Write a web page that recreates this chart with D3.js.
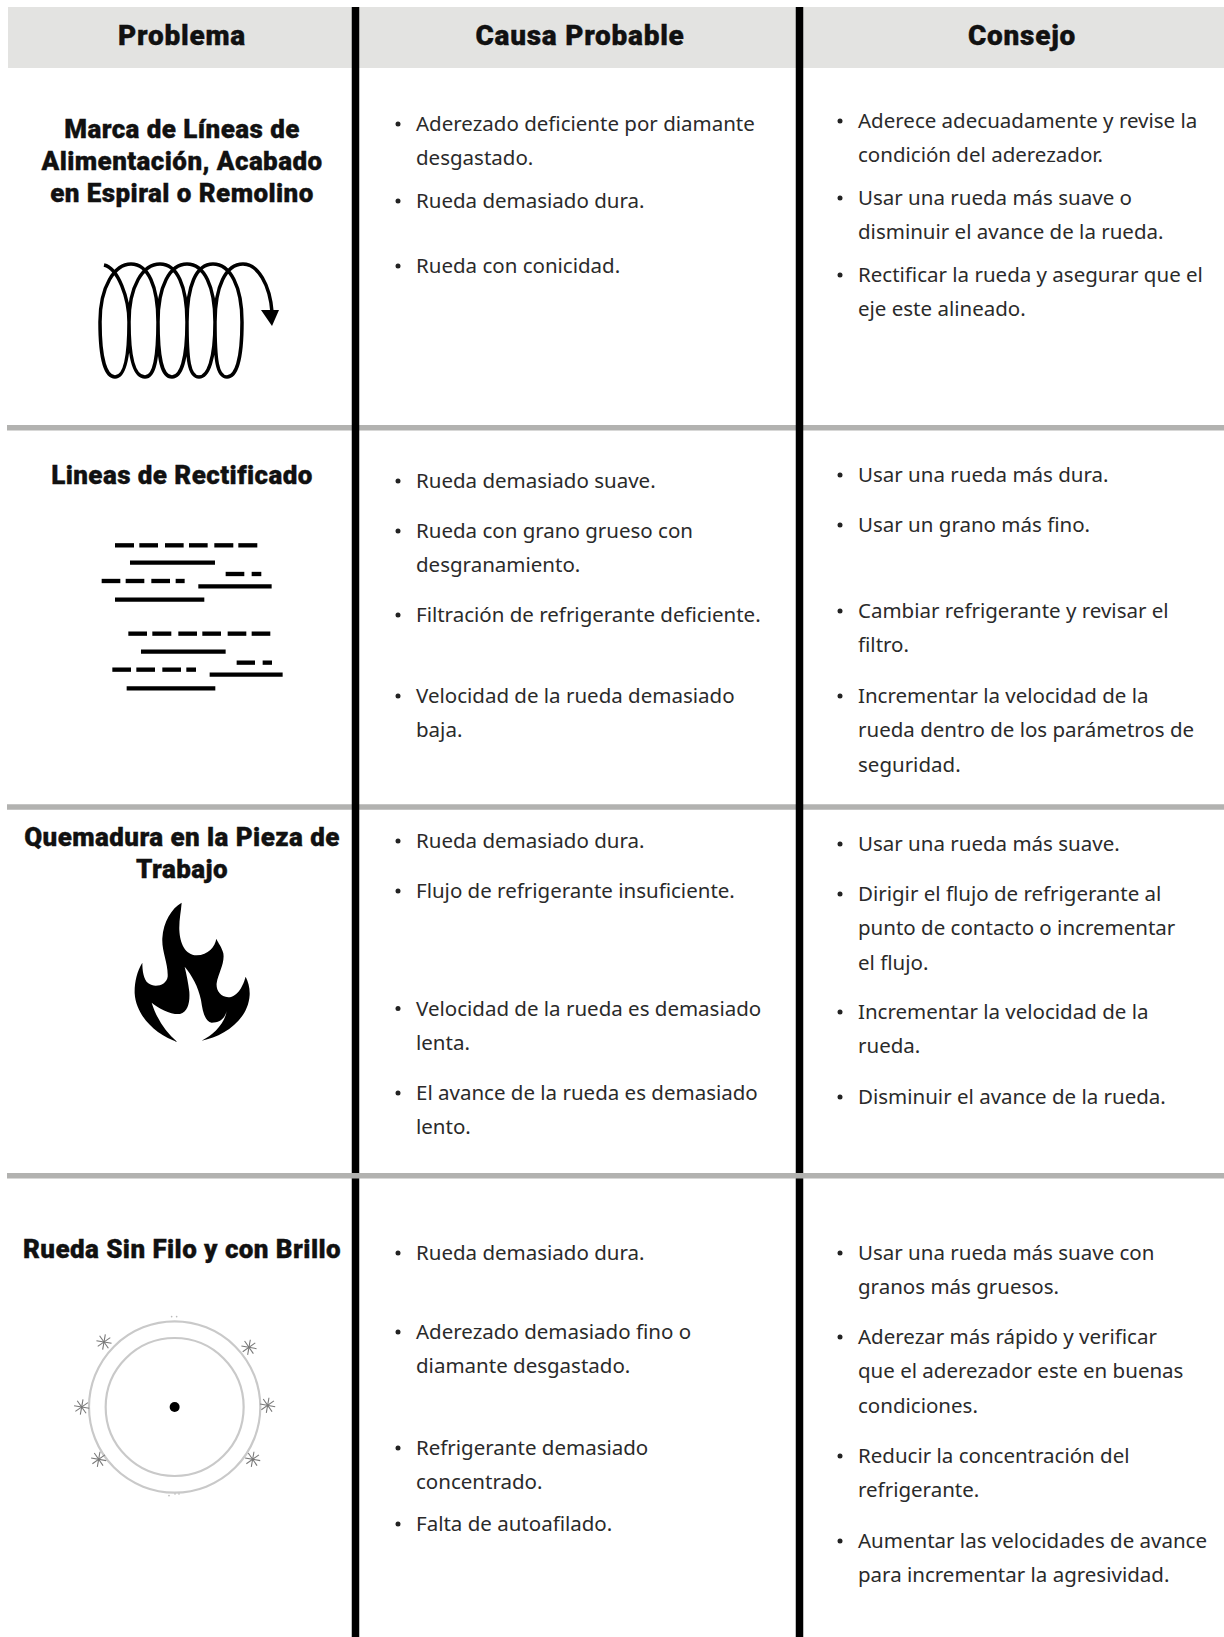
<!DOCTYPE html>
<meta charset="utf-8">
<style>
  html, body { margin: 0; background: #fff; }
  svg { display: block; }
  .head, .title { font-family: Roboto, sans-serif; font-weight: 900; fill: #111; text-anchor: middle; stroke: #111; stroke-width: 0.35px; }
  .head { font-size: 28px; letter-spacing: 0.75px; }
  .title { font-size: 26px; letter-spacing: 0.42px; }
  .body { font-family: "Noto Sans", sans-serif; font-size: 20.5px; fill: #2a2a2a; }
</style>
<body>
<div id="chart"></div>
<script src="https://d3js.org/d3.v7.min.js"></script>
<script>
  const columns = ['Problema', 'Causa Probable', 'Consejo'];

  const problems = [
    ['Marca de Líneas de', 'Alimentación, Acabado', 'en Espiral o Remolino'],
    ['Lineas de Rectificado'],
    ['Quemadura en la Pieza de', 'Trabajo'],
    ['Rueda Sin Filo y con Brillo']
  ];

  const causes = [
    [['Aderezado deficiente por diamante', 'desgastado.'], ['Rueda demasiado dura.'], ['Rueda con conicidad.']],
    [['Rueda demasiado suave.'], ['Rueda con grano grueso con', 'desgranamiento.'], ['Filtración de refrigerante deficiente.'], ['Velocidad de la rueda demasiado', 'baja.']],
    [['Rueda demasiado dura.'], ['Flujo de refrigerante insuficiente.'], ['Velocidad de la rueda es demasiado', 'lenta.'], ['El avance de la rueda es demasiado', 'lento.']],
    [['Rueda demasiado dura.'], ['Aderezado demasiado fino o', 'diamante desgastado.'], ['Refrigerante demasiado', 'concentrado.'], ['Falta de autoafilado.']]
  ];

  const advice = [
    [['Aderece adecuadamente y revise la', 'condición del aderezador.'], ['Usar una rueda más suave o', 'disminuir el avance de la rueda.'], ['Rectificar la rueda y asegurar que el', 'eje este alineado.']],
    [['Usar una rueda más dura.'], ['Usar un grano más fino.'], ['Cambiar refrigerante y revisar el', 'filtro.'], ['Incrementar la velocidad de la', 'rueda dentro de los parámetros de', 'seguridad.']],
    [['Usar una rueda más suave.'], ['Dirigir el flujo de refrigerante al', 'punto de contacto o incrementar', 'el flujo.'], ['Incrementar la velocidad de la', 'rueda.'], ['Disminuir el avance de la rueda.']],
    [['Usar una rueda más suave con', 'granos más gruesos.'], ['Aderezar más rápido y verificar', 'que el aderezador este en buenas', 'condiciones.'], ['Reducir la concentración del', 'refrigerante.'], ['Aumentar las velocidades de avance', 'para incrementar la agresividad.']]
  ];

  // layout (baseline of the first line of each bullet)
  const causeY = [
    [131, 208, 273],
    [488, 538, 622, 703],
    [848, 898, 1015.5, 1100],
    [1260, 1339, 1455, 1531]
  ];
  const adviceY = [
    [128, 205, 282],
    [482, 532, 618, 703],
    [851, 901, 1019, 1104],
    [1260, 1344, 1463, 1548]
  ];
  const titleY = [138, 484, 846, 1258];
  const ruleY = [427.8, 807, 1175.8];

  const width = 1224, height = 1637, lineH = 34.4;
  const headX = d3.scaleOrdinal(columns, [182, 580, 1022]);
  const bulletX = d3.scaleOrdinal(['cause', 'advice'], [398, 840]);
  const barX = [355.5, 799.5];

  const svg = d3.select('#chart').append('svg')
      .attr('width', width).attr('height', height)
      .attr('viewBox', `0 0 ${width} ${height}`);

  // cabecera
  svg.append('rect').attr('x', 8).attr('y', 7).attr('width', width - 8).attr('height', 61)
      .attr('fill', '#e3e3e1');
  svg.selectAll('text.head').data(columns).enter().append('text')
      .attr('class', 'head').attr('x', d => headX(d)).attr('y', 45).text(d => d);

  // lineas: la ultima regla gris pasa por encima de las barras
  function drawRules(ys) {
    svg.append('g').selectAll('line').data(ys).enter().append('line')
        .attr('x1', 7).attr('x2', width)
        .attr('y1', d => d).attr('y2', d => d)
        .attr('stroke', '#b2b2b0').attr('stroke-width', 5.5);
  }
  drawRules(ruleY.slice(0, 2));
  svg.selectAll('line.bar').data(barX).enter().append('line')
      .attr('class', 'bar').attr('x1', d => d).attr('x2', d => d)
      .attr('y1', 7).attr('y2', height)
      .attr('stroke', '#000').attr('stroke-width', 7.5);
  drawRules(ruleY.slice(2));

  // titulos de problema
  problems.forEach((lines, i) => {
    svg.append('g').selectAll('text').data(lines).enter().append('text')
        .attr('class', 'title').attr('x', 182)
        .attr('y', (d, j) => titleY[i] + j * 32).text(d => d);
  });

  function drawBullets(rows, ys, key) {
    rows.forEach((items, r) => {
      items.forEach((lines, k) => {
        const g = svg.append('g');
        g.append('circle').attr('cx', bulletX(key)).attr('cy', ys[r][k] - 7)
            .attr('r', 2.5).attr('fill', '#222');
        g.selectAll('text').data(lines).enter().append('text')
            .attr('class', 'body').attr('x', bulletX(key) + 18)
            .attr('y', (d, j) => ys[r][k] + j * lineH).text(d => d);
      });
    });
  }
  drawBullets(causes, causeY, 'cause');
  drawBullets(advice, adviceY, 'advice');

  // icono: espiral
  const topX = [131, 160, 187, 213];
  const bottomX = [145, 172, 199, 227];
  const rightX = [158, 187, 215, 242];
  const leftX = [129, 158, 187, 215];
  let coil = 'M104,265 C118,268 129,298 129,322 C129,360 124,377 115,377 C106,377 100,360 100,322 C100,286 115,264 131,264';
  topX.forEach((t, i) => {
    coil += ` C${t + 17},264 ${rightX[i]},286 ${rightX[i]},322`;
    coil += ` C${rightX[i]},360 ${bottomX[i] + 9},377 ${bottomX[i]},377`;
    coil += ` C${bottomX[i] - 10},377 ${leftX[i]},360 ${leftX[i]},322`;
    const nt = i < 3 ? topX[i + 1] : 243;
    coil += ` C${leftX[i]},286 ${nt - 17},264 ${nt},264`;
  });
  coil += ' C258,264 270,285 272,312';
  svg.append('path').attr('d', coil).attr('fill', 'none').attr('stroke', '#000').attr('stroke-width', 3.5);
  svg.append('path').attr('d', 'M261,310 L279,310 L272,326 Z').attr('fill', '#000');

  // icono: lineas (en pixeles del recorte x3)
  const dashes = [
    [165, 222, 136], [238, 294, 136], [315, 371, 136], [387, 443, 136], [463, 520, 136], [535, 592, 136],
    [210, 465, 188], [497, 553, 222], [575, 604, 222],
    [125, 181, 243], [197, 253, 243], [274, 330, 243], [347, 374, 243],
    [415, 635, 259], [165, 433, 299],
    [205, 261, 401], [277, 334, 401], [355, 411, 401], [427, 483, 401], [503, 559, 401], [575, 631, 401],
    [243, 497, 455], [530, 585, 488], [608, 636, 488],
    [157, 213, 509], [229, 285, 509], [307, 363, 509], [379, 408, 509],
    [449, 668, 524], [200, 466, 565]
  ];
  svg.append('g').attr('transform', 'translate(60,500) scale(0.3333)')
      .selectAll('line').data(dashes).enter().append('line')
      .attr('x1', d => d[0]).attr('x2', d => d[1])
      .attr('y1', d => d[2]).attr('y2', d => d[2])
      .attr('stroke', '#000').attr('stroke-width', 13);

  // icono: llama
  svg.append('path').attr('transform', 'translate(100,880) scale(0.3333)')
      .attr('fill', '#000')
      .attr('d', 'M245,68 C215,85 190,125 187,175 C185,215 205,250 203,290 C200,315 165,325 145,310 C130,298 127,270 127,248 C110,275 103,310 104,340 C108,410 170,465 232,486 C195,455 170,415 155,368 C175,385 215,405 240,402 C265,395 270,365 268,335 C265,310 260,285 254,260 C275,285 295,320 303,360 C308,395 315,425 335,428 C360,428 375,415 380,393 C375,430 340,465 305,482 C370,470 445,420 449,345 C450,325 445,305 437,290 C430,315 415,350 385,352 C360,350 348,330 350,310 C355,280 375,250 370,220 C365,200 355,190 349,176 C345,200 325,225 290,226 C255,225 240,190 238,150 C237,120 243,95 245,68 Z');

  // icono: rueda
  const wheel = svg.append('g').attr('transform', 'translate(60,1300) scale(0.3333)');
  wheel.selectAll('circle.ring').data([257, 207]).enter().append('circle')
      .attr('class', 'ring').attr('cx', 344).attr('cy', 321).attr('r', d => d)
      .attr('fill', 'none').attr('stroke', '#c9c9c9').attr('stroke-width', 6.5);
  wheel.append('circle').attr('cx', 344).attr('cy', 321).attr('r', 15).attr('fill', '#000');
  const sparks = [[132, 126], [567, 142], [623, 316], [578, 478], [116, 478], [65, 321]];
  const spokes = d3.range(4).map(i => i * 45);
  wheel.selectAll('g.spark').data(sparks).enter().append('g')
      .attr('class', 'spark').attr('transform', d => `translate(${d[0]},${d[1]})`)
      .selectAll('line').data(spokes).enter().append('line')
      .attr('x1', -23).attr('x2', 23).attr('y1', 0).attr('y2', 0)
      .attr('transform', d => `rotate(${d + 10})`)
      .attr('stroke', '#777').attr('stroke-width', 3.2);
  wheel.selectAll('circle.speck').data([[335, 50], [350, 50], [327, 587], [345, 582], [357, 582]]).enter().append('circle')
      .attr('class', 'speck').attr('cx', d => d[0]).attr('cy', d => d[1]).attr('r', 2.5).attr('fill', '#bbb');
</script>
</body>
